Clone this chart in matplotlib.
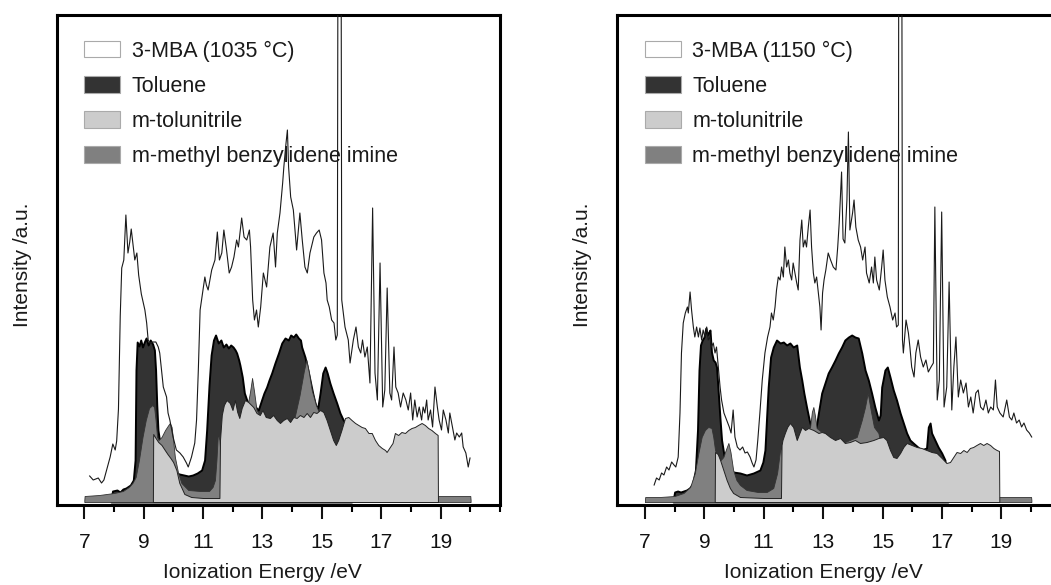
import matplotlib
matplotlib.use("Agg")
import matplotlib.pyplot as plt
from matplotlib.patches import Patch
from matplotlib.ticker import MultipleLocator

plt.rcParams['font.family'] = ['Liberation Sans', 'DejaVu Sans']

# ---------------- 3-MBA pyrolysis at 1035 °C ----------------
mba1_ev = [7.18, 7.30, 7.47, 7.58, 7.66, 7.75, 7.87, 7.96, 8.04, 8.09, 8.15, 8.21, 8.26, 8.33, 8.40,
           8.47, 8.53, 8.58, 8.64, 8.70, 8.77, 8.83, 8.92, 9.04, 9.10, 9.15, 9.21, 9.32, 9.41,
           9.49, 9.54, 9.60, 9.66, 9.77, 9.82, 9.88, 9.99, 10.10, 10.22, 10.33, 10.44, 10.50,
           10.61, 10.72, 10.78, 10.84, 10.90, 11.01, 11.06, 11.11, 11.17, 11.29, 11.40,
           11.48, 11.55, 11.63, 11.70, 11.79, 11.88, 11.96, 12.04, 12.13, 12.19, 12.30, 12.38,
           12.47, 12.56, 12.60, 12.67, 12.73, 12.80, 12.86, 12.94, 13.03, 13.14, 13.25, 13.36,
           13.44, 13.50, 13.59, 13.68, 13.72, 13.78, 13.84, 13.88, 13.95, 14.04, 14.15, 14.26,
           14.34, 14.43, 14.51, 14.60, 14.73, 14.82, 14.91, 14.99, 15.07, 15.14, 15.18, 15.25,
           15.33, 15.41, 15.47, 15.52, 15.55, 15.64, 15.67, 15.78, 15.89, 15.95, 16.06, 16.15,
           16.23, 16.31, 16.37, 16.45, 16.53, 16.62, 16.71, 16.79, 16.87, 16.96, 17.05, 17.12,
           17.20, 17.29, 17.35, 17.43, 17.49, 17.57, 17.65, 17.74, 17.83, 17.91, 17.99, 18.06,
           18.13, 18.21, 18.28, 18.36, 18.41, 18.47, 18.53, 18.58, 18.66, 18.73, 18.81, 18.89,
           18.95, 19.03, 19.09, 19.18, 19.26, 19.31, 19.40, 19.48, 19.54, 19.63, 19.71, 19.76,
           19.85, 19.93, 19.99]
mba1_int = [24, 20, 22, 17, 20, 30, 43, 56, 50, 59, 91, 184, 232, 240, 285,
            247, 258, 271, 255, 240, 247, 225, 206, 190, 177, 160, 157, 158, 158,
            153, 147, 130, 113, 103, 87, 80, 63, 50, 47, 43, 37, 33,
            43, 57, 80, 130, 190, 213, 223, 215, 210, 230, 240,
            268, 240, 247, 270, 250, 227, 233, 243, 260, 253, 282, 263,
            260, 270, 253, 200, 180, 190, 173, 193, 227, 213, 253, 267,
            233, 267, 287, 317, 333, 353, 370, 333, 303, 290, 250, 287,
            260, 233, 227, 247, 263, 267, 270, 260, 227, 217, 200, 193,
            180, 177, 160, 165, 700, 700, 200, 173, 160, 137, 160, 173,
            153, 147, 160, 143, 153, 117, 292, 127, 100, 237, 93, 110,
            212, 107, 100, 153, 113, 107, 93, 107, 100, 90, 107, 80,
            100, 83, 93, 80, 93, 87, 100, 80, 90, 73, 113, 93,
            80, 70, 90, 80, 67, 87, 73, 60, 67, 63, 67, 53,
            47, 33, 42]

tol1_ev = [7.90, 7.95, 8.10, 8.20, 8.30, 8.40, 8.55, 8.65, 8.71, 8.74, 8.78, 8.84, 8.90, 8.96,
           9.02, 9.08, 9.15, 9.22, 9.30, 9.36, 9.40, 9.44, 9.48, 9.52, 9.60, 9.70, 9.80, 9.90,
           10.00, 10.10, 10.20, 10.35, 10.50, 10.65, 10.80, 10.95, 11.05, 11.12, 11.20, 11.27,
           11.35, 11.42, 11.51, 11.60, 11.68, 11.77, 11.85, 11.93, 12.01, 12.08, 12.13, 12.20,
           12.24, 12.32, 12.39, 12.47, 12.55, 12.70, 12.86, 12.97, 13.05, 13.14, 13.22, 13.31,
           13.42, 13.54, 13.65, 13.76, 13.87, 13.95, 14.04, 14.12, 14.21, 14.28, 14.32, 14.43,
           14.51, 14.60, 14.69, 14.77, 14.85, 14.94, 15.03, 15.11, 15.18, 15.27, 15.38, 15.50,
           15.61, 15.72, 15.81, 15.90, 16.00]
tol1_int = [0, 9, 10, 8, 11, 12, 15, 20, 40, 130, 158, 154, 160, 153,
            158, 162, 155, 160, 156, 150, 130, 95, 70, 62, 57, 50, 43, 36,
            31, 27, 26, 25, 24, 25, 27, 30, 40, 70, 115, 145,
            160, 165, 157, 160, 153, 156, 152, 155, 153, 150, 147, 140,
            135, 123, 107, 100, 95, 95, 90, 100, 107, 113, 120, 127,
            137, 147, 157, 162, 160, 165, 163, 166, 162, 160, 153, 143,
            133, 120, 107, 97, 90, 107, 127, 133, 127, 117, 107, 97,
            87, 80, 77, 70, 0]

nit1_ev = [9.31, 9.32, 9.40, 9.49, 9.60, 9.71, 9.80, 9.90, 9.99, 10.10, 10.20, 10.37, 10.60,
           11.00, 11.55, 11.57, 11.63, 11.70, 11.79, 11.90, 11.99, 12.07, 12.15, 12.22, 12.30,
           12.41, 12.52, 12.69, 12.80, 12.91, 13.00, 13.11, 13.25, 13.36, 13.48, 13.59, 13.70,
           13.82, 13.93, 14.04, 14.15, 14.26, 14.38, 14.49, 14.60, 14.71, 14.82, 14.94, 15.05,
           15.16, 15.27, 15.38, 15.47, 15.55, 15.66, 15.78, 15.89, 16.00, 16.12, 16.23, 16.34,
           16.45, 16.57, 16.68, 16.79, 16.90, 17.02, 17.13, 17.18, 17.29, 17.38, 17.46, 17.57,
           17.68, 17.80, 17.91, 18.02, 18.13, 18.24, 18.36, 18.47, 18.58, 18.69, 18.81, 18.90,
           18.91]
nit1_int = [0, 66, 62, 58, 55, 50, 46, 42, 38, 30, 17, 6, 3,
            2, 2, 60, 85, 95, 100, 97, 90, 100, 88, 82, 92,
            100, 98, 93, 87, 85, 90, 83, 82, 85, 80, 77, 80,
            82, 78, 83, 82, 85, 83, 87, 83, 88, 87, 90, 88,
            80, 70, 60, 55, 60, 70, 82, 83, 80, 77, 75, 73,
            72, 67, 67, 60, 55, 52, 50, 48, 53, 57, 67, 65,
            68, 67, 70, 72, 73, 75, 77, 75, 72, 70, 67, 65,
            0]

imi1_ev = [7.00, 7.01, 7.50, 8.00, 8.30, 8.50, 8.62, 8.73, 8.84, 8.96, 9.07, 9.18, 9.29, 9.35,
           9.40, 9.45, 9.50, 9.60, 9.72, 9.83, 9.88, 9.94, 9.99, 10.05, 10.16, 10.27, 10.50,
           10.90, 11.20, 11.32, 11.40, 11.45, 11.50, 11.55, 11.60, 12.00, 12.50, 12.58,
           12.65, 12.72, 12.80, 13.20, 14.00, 14.10, 14.25, 14.40, 14.48, 14.56, 14.66, 14.80,
           14.90, 15.00, 15.50, 16.00, 18.50, 18.90, 20.00, 20.01]
imi1_int = [0, 4, 5, 7, 9, 13, 17, 23, 40, 63, 80, 92, 95, 93,
            80, 63, 60, 63, 70, 75, 77, 73, 60, 43, 27, 17, 10,
            9, 9, 13, 20, 40, 67, 60, 40, 40, 95, 108,
            122, 108, 90, 70, 75, 85, 105, 130, 140, 128, 110, 95,
            88, 70, 40, 30, 10, 4, 4, 0]

# ---------------- 3-MBA pyrolysis at 1150 °C ----------------
mba2_ev = [7.31, 7.39, 7.48, 7.56, 7.64, 7.73, 7.81, 7.90, 7.98, 8.04, 8.12, 8.18, 8.23, 8.29,
           8.36, 8.43, 8.46, 8.52, 8.57, 8.63, 8.68, 8.74, 8.80, 8.85, 8.91, 8.96, 9.02, 9.08,
           9.13, 9.19, 9.24, 9.30, 9.36, 9.41, 9.47, 9.53, 9.58, 9.66, 9.75, 9.84, 9.90, 9.97,
           10.03, 10.11, 10.20, 10.29, 10.37, 10.45, 10.54, 10.61, 10.67, 10.74, 10.80, 10.87,
           10.95, 11.04, 11.13, 11.21, 11.26, 11.32, 11.38, 11.43, 11.49, 11.55, 11.60, 11.66,
           11.71, 11.77, 11.83, 11.88, 11.94, 11.99, 12.05, 12.11, 12.16, 12.22, 12.28, 12.33,
           12.39, 12.44, 12.50, 12.56, 12.61, 12.67, 12.72, 12.78, 12.84, 12.89, 12.93, 12.98,
           13.03, 13.09, 13.17, 13.25, 13.34, 13.43, 13.49, 13.54, 13.62, 13.67, 13.73, 13.80,
           13.85, 13.90, 13.99, 14.04, 14.10, 14.18, 14.26, 14.33, 14.41, 14.46, 14.55, 14.63,
           14.69, 14.74, 14.80, 14.89, 14.97, 15.02, 15.08, 15.16, 15.25, 15.34, 15.42, 15.47,
           15.53, 15.55, 15.64, 15.67, 15.70, 15.79, 15.87, 15.92, 15.98, 16.06, 16.12, 16.20,
           16.28, 16.37, 16.46, 16.54, 16.63, 16.71, 16.76, 16.84, 16.91, 16.99, 17.07, 17.16,
           17.24, 17.33, 17.40, 17.47, 17.55, 17.63, 17.72, 17.81, 17.89, 17.97, 18.05, 18.14,
           18.22, 18.30, 18.39, 18.48, 18.56, 18.64, 18.73, 18.80, 18.86, 18.95, 19.06, 19.18,
           19.27, 19.35, 19.42, 19.51, 19.60, 19.68, 19.76, 19.85, 19.94, 20.02]
mba2_int = [15, 22, 20, 27, 25, 33, 30, 38, 35, 33, 43, 87, 147, 177,
            187, 193, 187, 208, 190, 173, 163, 173, 163, 172, 160, 170, 163, 173,
            160, 163, 153, 157, 147, 153, 133, 113, 100, 87, 80, 73, 67, 90,
            63, 53, 50, 53, 47, 48, 43, 37, 33, 40, 60, 87,
            120, 147, 163, 173, 187, 180, 193, 210, 223, 220, 233, 223,
            253, 233, 240, 227, 220, 237, 227, 217, 210, 260, 280, 253,
            260, 253, 273, 290, 253, 227, 217, 223, 207, 193, 170, 207,
            220, 230, 247, 240, 233, 230, 253, 277, 328, 261, 257, 300,
            368, 270, 287, 300, 273, 260, 253, 240, 253, 227, 217, 233,
            217, 243, 220, 210, 233, 250, 220, 203, 193, 180, 187, 173,
            175, 700, 700, 160, 147, 180, 167, 153, 133, 123, 147, 160,
            143, 133, 140, 128, 133, 137, 293, 100, 120, 288, 93, 113,
            218, 90, 133, 163, 103, 120, 107, 117, 93, 103, 87, 107,
            110, 93, 90, 100, 87, 93, 90, 120, 93, 87, 83, 100,
            83, 80, 87, 77, 80, 73, 77, 70, 67, 63]

tol2_ev = [7.95, 8.00, 8.10, 8.20, 8.30, 8.40, 8.50, 8.60, 8.70, 8.77, 8.82, 8.87, 8.93, 8.99,
           9.05, 9.10, 9.15, 9.19, 9.24, 9.30, 9.36, 9.41, 9.47, 9.53, 9.58, 9.66, 9.75, 9.86,
           9.97, 10.20, 10.42, 10.65, 10.87, 10.97, 11.04, 11.10, 11.15, 11.23, 11.32, 11.43,
           11.55, 11.66, 11.77, 11.88, 11.99, 12.11, 12.20, 12.28, 12.35, 12.44, 12.53, 12.60,
           12.75, 12.84, 12.95, 13.06, 13.17, 13.28, 13.40, 13.51, 13.62, 13.73, 13.85, 13.96,
           14.07, 14.18, 14.30, 14.41, 14.52, 14.63, 14.74, 14.86, 14.92, 14.97, 15.08, 15.16,
           15.25, 15.36, 15.47, 15.59, 15.70, 15.81, 15.92, 16.03, 16.30, 16.48, 16.54, 16.60,
           16.65, 16.76, 16.87, 16.99, 17.10, 17.20]
tol2_int = [0, 8, 9, 8, 9, 10, 12, 16, 30, 70, 130, 155, 160, 163,
            172, 165, 168, 170, 148, 140, 138, 133, 107, 80, 60, 45, 37, 31,
            28, 27, 25, 27, 30, 38, 50, 85, 113, 143, 153, 160,
            157, 158, 155, 157, 153, 155, 133, 120, 107, 93, 80, 72,
            70, 87, 107, 117, 127, 133, 140, 147, 153, 160, 163, 165,
            163, 162, 147, 130, 120, 107, 93, 80, 85, 113, 130, 133,
            123, 110, 100, 87, 77, 67, 60, 57, 50, 52, 73, 77,
            67, 60, 53, 47, 40, 0]

nit2_ev = [9.35, 9.36, 9.45, 9.53, 9.64, 9.75, 9.86, 9.97, 10.20, 11.00, 11.58, 11.60, 11.63,
           11.71, 11.79, 11.88, 11.99, 12.11, 12.20, 12.28, 12.39, 12.50, 12.67, 12.84, 12.95,
           13.06, 13.23, 13.40, 13.57, 13.73, 13.90, 14.07, 14.24, 14.46, 14.69, 14.86, 15.02,
           15.13, 15.25, 15.36, 15.47, 15.59, 15.70, 15.81, 15.98, 16.15, 16.31, 16.48, 16.65,
           16.82, 16.99, 17.15, 17.27, 17.38, 17.49, 17.61, 17.72, 17.83, 17.94, 18.05, 18.16,
           18.28, 18.39, 18.50, 18.62, 18.73, 18.84, 18.92, 18.93]
nit2_int = [0, 48, 46, 40, 30, 20, 12, 7, 3, 2, 2, 55, 60,
            67, 73, 77, 73, 60, 67, 73, 70, 72, 70, 67, 68,
            67, 63, 60, 62, 57, 58, 60, 57, 58, 60, 62, 63,
            60, 50, 43, 42, 47, 53, 57, 55, 53, 52, 50, 48,
            47, 42, 37, 38, 43, 48, 47, 50, 48, 52, 53, 55,
            57, 55, 57, 55, 52, 50, 49, 0]

imi2_ev = [7.00, 7.01, 7.50, 8.00, 8.30, 8.52, 8.68, 8.80, 8.91, 9.02, 9.13, 9.24, 9.30, 9.36,
           9.45, 9.55, 9.64, 9.72, 9.81, 9.88, 9.97, 10.08, 10.20, 10.42, 10.80, 11.10, 11.32,
           11.45, 11.55, 11.59, 11.62, 12.00, 12.56, 12.62, 12.67, 12.72, 12.78, 13.50, 14.13,
           14.30, 14.41, 14.50, 14.60, 14.71, 14.86, 15.00, 16.00, 18.00, 18.90, 20.00, 20.01]
imi2_int = [0, 3, 3, 4, 7, 13, 27, 47, 63, 70, 73, 72, 63, 50,
            42, 40, 43, 50, 57, 48, 30, 20, 15, 10, 8, 8, 12,
            27, 50, 53, 40, 50, 73, 88, 93, 85, 72, 55, 63,
            80, 93, 107, 90, 73, 67, 45, 30, 10, 3, 3, 0]

xticks_major = [7, 9, 11, 13, 15, 17, 19]
labels = ["3-MBA (1035 °C)", "3-MBA (1150 °C)"]
names = ["Toluene", "m-tolunitrile", "m-methyl benzylidene imine"]

C_TOL = "#333333"
C_NIT = "#cccccc"
C_IMI = "#808080"
BASE = -2
XLIM = (6.07, 21.0)

fig = plt.figure(figsize=(10.51, 5.85), dpi=100)
W, H = 1051.0, 585.0
ax1 = fig.add_axes([56.7 / W, 1 - 505 / H, 443.3 / W, 490 / H])
ax2 = fig.add_axes([617.3 / W, 1 - 505 / H, 443.5 / W, 490 / H])

panels = [
    (ax1, mba1_ev, mba1_int, tol1_ev, tol1_int, nit1_ev, nit1_int, imi1_ev, imi1_int, labels[0]),
    (ax2, mba2_ev, mba2_int, tol2_ev, tol2_int, nit2_ev, nit2_int, imi2_ev, imi2_int, labels[1]),
]

for ax, mx, my, tx, ty, nx, ny, ix, iy, lab in panels:
    ax.fill_between(mx, BASE, my, facecolor="white", edgecolor="none", zorder=1)
    ax.fill_between(tx, BASE, ty, facecolor=C_TOL, edgecolor="black", linewidth=1.4, zorder=2)
    ax.fill_between(ix, BASE, iy, facecolor=C_IMI, edgecolor="#333333", linewidth=0.6, zorder=3)
    ax.fill_between(nx, BASE, ny, facecolor=C_NIT, edgecolor="#222222", linewidth=0.7, zorder=4)
    ax.plot(mx, my, color="#1a1a1a", linewidth=0.8, zorder=5)

    ax.set_xlim(*XLIM)
    ax.set_ylim(-5, 485)
    ax.set_xticks(xticks_major)
    ax.xaxis.set_minor_locator(MultipleLocator(1))
    ax.set_yticks([])
    for s in ax.spines.values():
        s.set_linewidth(2.2)
    ax.tick_params(axis="x", which="major", direction="out", length=10, width=1.5,
                   pad=10.5, labelsize=15, colors="#111111")
    ax.tick_params(axis="x", which="minor", direction="out", length=5, width=1.5)
    ax.set_xlabel("Ionization Energy /eV", fontsize=15, color="#1a1a1a")
    # axis title centred under the 13 eV tick, a fixed distance below the frame
    ax.xaxis.set_label_coords((13 - XLIM[0]) / (XLIM[1] - XLIM[0]), -(563.5 - 505.0) / 490.0)
    ax.xaxis.label.set_verticalalignment("top")
    ax.set_ylabel("Intensity /a.u.", fontsize=15, color="#1a1a1a")
    ax.yaxis.set_label_coords(-25.0 / 443.3, 0.49)

    handles = [
        Patch(facecolor="white", edgecolor="#aaaaaa", linewidth=0.8),
        Patch(facecolor=C_TOL, edgecolor="#aaaaaa", linewidth=0.8),
        Patch(facecolor=C_NIT, edgecolor="#aaaaaa", linewidth=0.8),
        Patch(facecolor=C_IMI, edgecolor="#aaaaaa", linewidth=0.8),
    ]
    leg = ax.legend(handles, [lab] + names, loc="upper left",
                    bbox_to_anchor=(27.6 / 443.3, 0.948), frameon=False,
                    borderpad=0, borderaxespad=0, handlelength=1.66, handleheight=0.81,
                    handletextpad=0.54, labelspacing=0.66, fontsize=15.5)
    leg.set_zorder(10)
    for t in leg.get_texts():
        t.set_color("#1a1a1a")

fig.savefig("out.png", dpi=100)
